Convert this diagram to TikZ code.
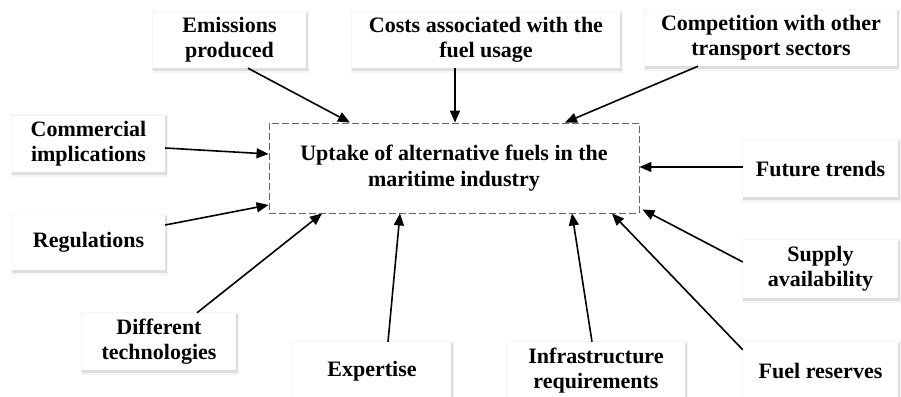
\documentclass[tikz,border=0pt]{standalone}
\usepackage{fontspec}
\setmainfont{Liberation Serif}
\usetikzlibrary{arrows.meta,calc}
\pgfdeclarelayer{background}
\pgfsetlayers{background,main}
\begin{document}
\begin{tikzpicture}[x=1pt,y=-1pt,
  box/.style={fill=white,align=center,inner sep=0pt,
    font=\fontsize{22}{25}\selectfont\bfseries},
  mainbox/.style={draw=black!60,dash pattern=on 7pt off 3pt,line width=0.9pt,fill=white,align=center,inner sep=0pt,
    font=\fontsize{22}{26}\selectfont\bfseries},
  shadowA/.style={fill=black!4},
  shadowB/.style={fill=black!13},
  arr/.style={line width=1.6pt,-{Triangle[length=12pt,width=10pt]}}]
\begin{pgfonlayer}{background}
\fill[white] (0,0) rectangle (901,396);
\end{pgfonlayer}
\useasboundingbox (0,0) rectangle (901,396);
\node[mainbox,minimum width=370pt,minimum height=90pt] (center) at (454,168) {Uptake of alternative fuels in the\\maritime industry};
\node[box,minimum width=153pt,minimum height=56pt] (emis) at (229.5,40) {Emissions\\produced};
\node[box,minimum width=268pt,minimum height=56pt] (cost) at (486,40) {Costs associated with the\\fuel usage};
\node[box,minimum width=252pt,minimum height=56pt] (comp) at (771,38) {Competition with other\\transport sectors};
\node[box,minimum width=153pt,minimum height=56pt] (comm) at (88.5,143.5) {Commercial\\implications};
\node[box,minimum width=155pt,minimum height=57pt] (future) at (820.5,168.5) {Future trends};
\node[box,minimum width=153pt,minimum height=55pt] (regs) at (88.5,242.5) {Regulations};
\node[box,minimum width=154pt,minimum height=57pt] (diff) at (159,341.5) {Different\\technologies};
\node[box,minimum width=158pt,minimum height=58pt] (expert) at (372,371) {Expertise};
\node[box,minimum width=178pt,minimum height=58pt] (infra) at (596,371) {Infrastructure\\requirements};
\node[box,minimum width=155pt,minimum height=58pt] (fuel) at (820.5,371) {Fuel reserves};
\node[box,minimum width=155pt,minimum height=58pt] (supply) at (820.5,269) {Supply\\availability};
\begin{pgfonlayer}{background}
\foreach \n in {emis,cost,comp,comm,future,regs,diff,expert,infra,fuel,supply}{
  \fill[shadowA] ([shift={(-1pt,1pt)}]\n.north west) rectangle ([shift={(3pt,-5pt)}]\n.south east);
  \fill[shadowB] ([shift={(0.5pt,-1pt)}]\n.north west) rectangle ([shift={(1.5pt,-3pt)}]\n.south east);
}
\end{pgfonlayer}
\draw[arr] ([xshift=18.5pt]emis.south) -- ([xshift=-104pt]center.north);
\draw[arr] ([xshift=-31pt]cost.south) -- ([xshift=1pt]center.north);
\draw[arr] ([xshift=-73pt]comp.south) -- ([xshift=111pt]center.north);
\draw[arr] ([yshift=-4.5pt]comm.east) -- ([yshift=14pt]center.west);
\draw[arr] ([yshift=17.5pt]regs.east) -- ([yshift=-37pt]center.west);
\draw[arr] ([xshift=38pt]diff.north) -- ([xshift=-132pt]center.south);
\draw[arr] ([xshift=16pt]expert.north) -- ([xshift=-54pt]center.south);
\draw[arr] ([xshift=-4pt]infra.north) -- ([xshift=118pt]center.south);
\draw[arr] ([yshift=-8pt]fuel.north west) -- ([xshift=158pt]center.south);
\draw[arr] ([yshift=7pt]supply.west) -- ([xshift=3pt,yshift=4pt]center.south east);
\draw[arr] ([yshift=1.5pt]future.west) -- ([yshift=1pt]center.east);
\end{tikzpicture}
\end{document}
